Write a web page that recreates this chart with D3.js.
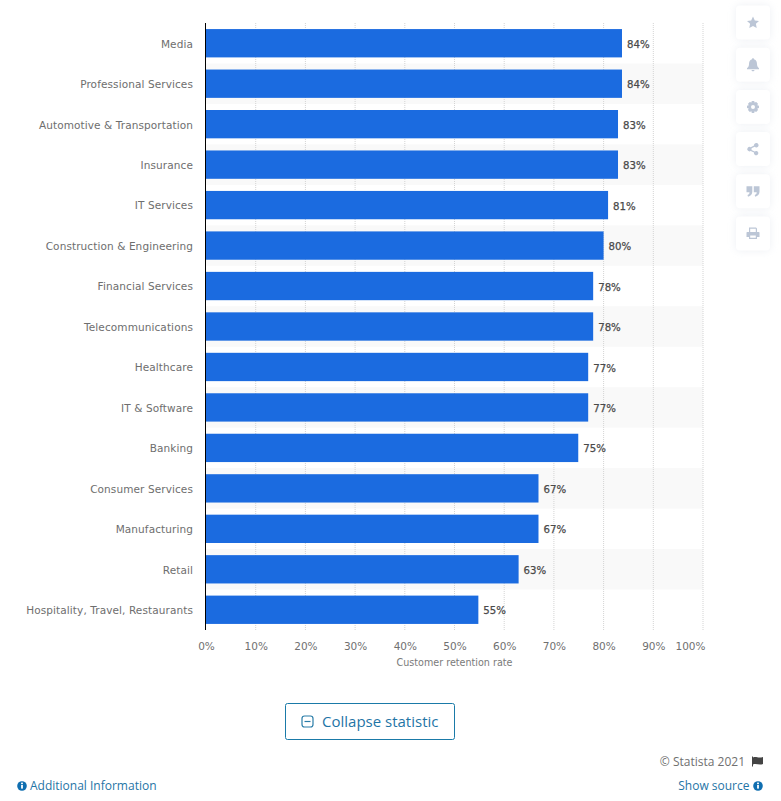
<!DOCTYPE html>
<html>
<head>
<meta charset="utf-8">
<script src="https://cdn.jsdelivr.net/npm/d3@7"></script>
<style>
html, body { margin: 0; padding: 0; background: #fff; }
svg { display: block; }
.cat text { font: 10.5px "DejaVu Sans", sans-serif; fill: #6e6e6e; letter-spacing: .1px; }
.val text { font: 10.5px "DejaVu Sans", sans-serif; fill: #707070; }
.lbl { font: 10.2px "DejaVu Sans", sans-serif; fill: #4a4a4a; stroke: #4a4a4a; stroke-width: .25px; }
.foot { font-family: "Open Sans", sans-serif; }
</style>
</head>
<body>
<svg id="chart" width="781" height="801"></svg>
<script>
var categories = ['Media', 'Professional Services', 'Automotive & Transportation', 'Insurance', 'IT Services',
    'Construction & Engineering', 'Financial Services', 'Telecommunications', 'Healthcare', 'IT & Software',
    'Banking', 'Consumer Services', 'Manufacturing', 'Retail', 'Hospitality, Travel, Restaurants'];
var retention = [83.7, 83.7, 82.9, 82.9, 80.9, 80, 77.9, 77.9, 76.9, 76.9, 74.9, 66.9, 66.9, 62.9, 54.8];
var valueLabels = ['84%', '84%', '83%', '83%', '81%', '80%', '78%', '78%', '77%', '77%', '75%', '67%', '67%', '63%', '55%'];
var ticks = [0, 10, 20, 30, 40, 50, 60, 70, 80, 90, 100];

var svg = d3.select('#chart');
var x = d3.scaleLinear().domain([0, 100]).range([206, 703]);
var y = d3.scaleBand().domain(categories).range([23, 630]).paddingInner(0.3).paddingOuter(0.15);
var bandStep = y.step();

// alternating row stripes
svg.append('g').selectAll('rect')
    .data(categories.filter(function(d, i) { return i % 2 == 1; }))
    .enter()
        .append('rect')
        .attr('x', x(0))
        .attr('width', x(100) - x(0))
        .attr('y', function(d) { return y(d) + y.bandwidth() / 2 - bandStep / 2; })
        .attr('height', bandStep)
        .attr('fill', '#f9f9f9');

// dotted grid
svg.append('g').selectAll('line')
    .data(ticks.slice(1))
    .enter()
        .append('line')
        .attr('x1', x).attr('x2', x)
        .attr('y1', 23).attr('y2', 630)
        .attr('stroke', '#d4d4d4')
        .attr('stroke-dasharray', '1,1');

svg.append('g').selectAll('rect')
    .data(categories)
    .enter()
        .append('rect')
        .attr('x', x(0))
        .attr('y', function(d) { return y(d); })
        .attr('height', y.bandwidth())
        .attr('width', function(d, i) { return x(retention[i]) - x(0); })
        .attr('fill', '#1b6be0');

svg.append('g').selectAll('text')
    .data(categories)
    .enter()
        .append('text')
        .attr('class', 'lbl')
        .attr('x', function(d, i) { return x(retention[i]) + 5; })
        .attr('y', function(d) { return y(d) + y.bandwidth() / 2 + 1; })
        .attr('dy', '0.35em')
        .text(function(d, i) { return valueLabels[i]; });

var catAxis = svg.append('g')
    .attr('class', 'cat')
    .attr('transform', 'translate(206,1)')
    .call(d3.axisLeft(y).tickSize(0).tickPadding(13));
catAxis.select('.domain').remove();

var valAxis = svg.append('g')
    .attr('class', 'val')
    .attr('transform', 'translate(0,634)')
    .call(d3.axisBottom(x).tickValues(ticks).tickSize(0).tickPadding(9)
        .tickFormat(function(d) { return d + '%'; }));
valAxis.select('.domain').remove();
// last label sits left of its gridline, inside the plot edge
valAxis.selectAll('text').filter(function(d) { return d == 100; })
    .attr('text-anchor', 'end')
    .attr('x', 2);

svg.append('line')
    .attr('x1', 205.5).attr('x2', 205.5)
    .attr('y1', 23).attr('y2', 630)
    .attr('stroke', '#000');

svg.append('text')
    .attr('x', 454.5).attr('y', 666)
    .attr('text-anchor', 'middle')
    .attr('fill', '#7a7a7a')
    .style('font', '9.6px "DejaVu Sans", sans-serif')
    .text('Customer retention rate');

// collapse button
svg.append('rect')
    .attr('x', 285.5).attr('y', 703.5)
    .attr('width', 169).attr('height', 36)
    .attr('rx', 2)
    .attr('fill', '#fff').attr('stroke', '#1a7aa8');
svg.append('rect')
    .attr('x', 302).attr('y', 716).attr('width', 11).attr('height', 11).attr('rx', 2.5)
    .attr('fill', 'none').attr('stroke', '#2a7da8').attr('stroke-width', 1.2);
svg.append('line')
    .attr('x1', 304.5).attr('x2', 310.5).attr('y1', 721.5).attr('y2', 721.5)
    .attr('stroke', '#2a7da8').attr('stroke-width', 1.2);
svg.append('text')
    .attr('class', 'foot')
    .attr('x', 322).attr('y', 727)
    .attr('fill', '#1f75a6')
    .style('font-size', '15px')
    .text('Collapse statistic');

// footer
function infoIcon(cx, cy) {
    svg.append('circle').attr('cx', cx).attr('cy', cy).attr('r', 4.8).attr('fill', '#0f6eb0');
    svg.append('rect').attr('x', cx - 0.9).attr('y', cy - 1).attr('width', 1.8).attr('height', 3.6).attr('fill', '#fff');
    svg.append('rect').attr('x', cx - 0.9).attr('y', cy - 3.4).attr('width', 1.8).attr('height', 1.6).attr('fill', '#fff');
}
infoIcon(22, 786);
svg.append('text')
    .attr('class', 'foot')
    .attr('x', 30).attr('y', 790)
    .attr('fill', '#1f75a6')
    .style('font-size', '12px')
    .text('Additional Information');
infoIcon(758, 786);
svg.append('text')
    .attr('class', 'foot')
    .attr('x', 749.500).attr('y', 790)
    .attr('text-anchor', 'end')
    .attr('fill', '#1f75a6')
    .style('font-size', '12px')
    .text('Show source');
svg.append('text')
    .attr('class', 'foot')
    .attr('x', 745).attr('y', 766)
    .attr('text-anchor', 'end')
    .attr('fill', '#707070')
    .style('font-size', '12px')
    .text('© Statista 2021');
svg.append('path')
    .attr('d', 'M752,756.5h1v10h-1z M753,757.5c3,-1.5 5,1 10,-0.500v7c-4,1.500 -7,-1 -10,0.500z')
    .attr('fill', '#444');

// side buttons
var sideIcons = [
    'M0,-6 L1.8,-2 L6,-1.500 L2.900,1.300 L3.700,5.500 L0,3.400 L-3.700,5.500 L-2.900,1.300 L-6,-1.500 L-1.800,-2 Z',
    'M0,-6.500 C0.800,-6.500 1,-6 1,-5.500 C3.500,-5 4,-2.500 4,-0.500 C4,1.500 5,2.500 6,3.500 L6,4.500 L-6,4.500 L-6,3.500 C-5,2.500 -4,1.500 -4,-0.500 C-4,-2.500 -3.500,-5 -1,-5.500 C-1,-6 -0.800,-6.500 0,-6.500 Z M-1.500,5.200 L1.500,5.200 C1.500,7 -1.500,7 -1.500,5.200 Z',
    'M-1.200,-6 L1.200,-6 L1.600,-4.300 L3.200,-5 L5,-3.200 L4.300,-1.600 L6,-1.200 L6,1.200 L4.300,1.600 L5,3.200 L3.200,5 L1.600,4.300 L1.200,6 L-1.200,6 L-1.600,4.300 L-3.200,5 L-5,3.200 L-4.300,1.600 L-6,1.200 L-6,-1.200 L-4.300,-1.600 L-5,-3.200 L-3.200,-5 L-1.600,-4.300 Z M0,-2 A2,2 0 1 0 0,2 A2,2 0 1 0 0,-2 Z',
    'M3.500,-6 A2.200,2.200 0 1 1 1.700,-2.400 L-1.500,-0.800 A2.200,2.200 0 0 1 -1.500,0.800 L1.700,2.400 A2.200,2.200 0 1 1 1,3.500 L-2.300,1.800 A2.200,2.200 0 1 1 -2.300,-1.800 L1,-3.500 A2.200,2.200 0 0 1 3.500,-6 Z',
    'M-6.500,-5 L-0.700,-5 L-0.700,0.500 C-0.700,3 -2.500,5 -5,5.500 L-5.500,3.800 C-4,3.300 -3.500,2.500 -3.500,1 L-6.500,1 Z M0.800,-5 L6.500,-5 L6.500,0.500 C6.500,3 4.700,5 2.200,5.500 L1.700,3.800 C3.200,3.300 3.700,2.500 3.700,1 L0.800,1 Z',
    'M-4,-6 L3,-6 L4,-5 L4,-1.500 L6,-1.500 L6.500,-1 L6.500,3.500 L4,3.500 L4,5.500 L-4,5.500 L-4,3.500 L-6.500,3.500 L-6.500,-1 L-6,-1.500 L-4,-1.500 Z M-2.800,-4.800 L-2.800,-1.500 L2.800,-1.500 L2.800,-4.800 Z M-2.800,2 L-2.800,4.300 L2.800,4.300 L2.800,2 Z'
];
var shadow = svg.append('defs').append('filter')
    .attr('id', 'soft').attr('x', '-30%').attr('y', '-30%').attr('width', '160%').attr('height', '160%');
shadow.append('feDropShadow')
    .attr('dx', 0).attr('dy', 0).attr('stdDeviation', 4)
    .attr('flood-color', '#d5dbe6').attr('flood-opacity', 0.45);

var side = svg.append('g').selectAll('g')
    .data(sideIcons)
    .enter()
        .append('g')
        .attr('transform', function(d, i) { return 'translate(753,' + (22.500 + i * 42.2) + ')'; });
side.append('rect')
    .attr('x', -17).attr('y', -17).attr('width', 34).attr('height', 34).attr('rx', 4)
    .attr('fill', '#fff').attr('filter', 'url(#soft)');
side.append('path')
    .attr('d', function(d) { return d; })
    .attr('fill', '#bcc6d6')
    .attr('fill-rule', 'evenodd');
</script>
</body>
</html>
